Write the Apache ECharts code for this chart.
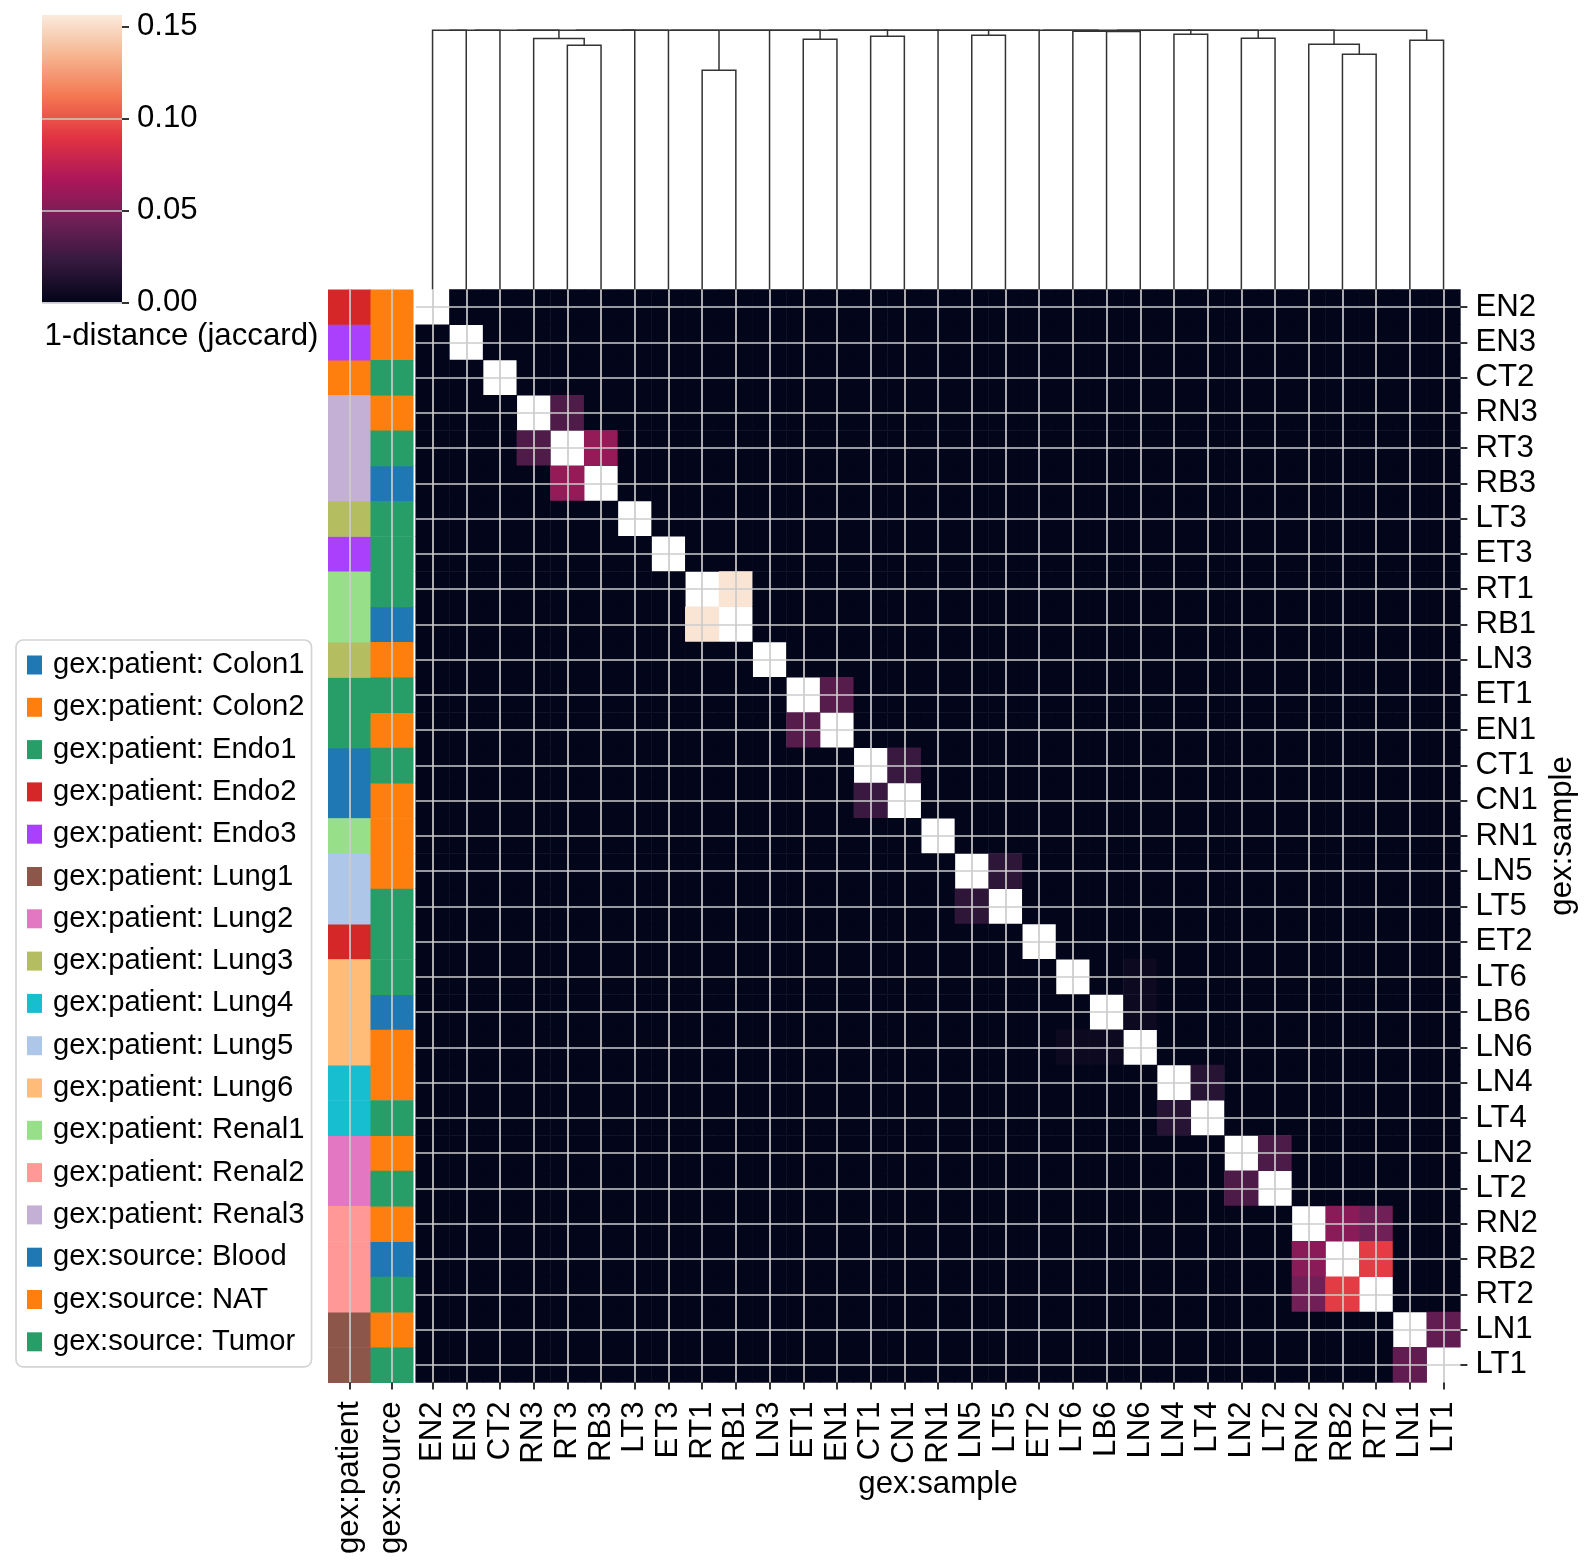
<!DOCTYPE html>
<html>
<head>
<meta charset="utf-8">
<title>gex:sample clustermap</title>
<script src="https://cdn.jsdelivr.net/npm/echarts@6/dist/echarts.min.js"></script>
<style>
  html, body { margin: 0; padding: 0; background: #fff; }
  #chart { width: 1591px; height: 1566px; }
</style>
</head>
<body>
<div id="chart"></div>
<script>
// leaf order coming out of the clustering, used for rows and columns
var samples = ['EN2', 'EN3', 'CT2', 'RN3', 'RT3', 'RB3', 'LT3', 'ET3', 'RT1', 'RB1', 'LN3',
  'ET1', 'EN1', 'CT1', 'CN1', 'RN1', 'LN5', 'LT5', 'ET2', 'LT6', 'LB6', 'LN6', 'LN4', 'LT4',
  'LN2', 'LT2', 'RN2', 'RB2', 'RT2', 'LN1', 'LT1'];
var patient = ['Endo2', 'Endo3', 'Colon2', 'Renal3', 'Renal3', 'Renal3', 'Lung3', 'Endo3',
  'Renal1', 'Renal1', 'Lung3', 'Endo1', 'Endo1', 'Colon1', 'Colon1', 'Renal1', 'Lung5', 'Lung5',
  'Endo2', 'Lung6', 'Lung6', 'Lung6', 'Lung4', 'Lung4', 'Lung2', 'Lung2', 'Renal2', 'Renal2',
  'Renal2', 'Lung1', 'Lung1'];
var source = ['NAT', 'NAT', 'Tumor', 'NAT', 'Tumor', 'Blood', 'Tumor', 'Tumor', 'Tumor', 'Blood',
  'NAT', 'Tumor', 'NAT', 'Tumor', 'NAT', 'NAT', 'NAT', 'Tumor', 'Tumor', 'Tumor', 'Blood', 'NAT',
  'NAT', 'Tumor', 'NAT', 'Tumor', 'NAT', 'Blood', 'Tumor', 'NAT', 'Tumor'];

var patientCats = ['Colon1', 'Colon2', 'Endo1', 'Endo2', 'Endo3', 'Lung1', 'Lung2', 'Lung3',
  'Lung4', 'Lung5', 'Lung6', 'Renal1', 'Renal2', 'Renal3'];
var patientColors = ['#1f77b4', '#ff7f0e', '#279e68', '#d62728', '#aa40fc', '#8c564b', '#e377c2',
  '#b5bd61', '#17becf', '#aec7e8', '#ffbb78', '#98df8a', '#ff9896', '#c5b0d5'];
var sourceCats = ['Blood', 'NAT', 'Tumor'];
var sourceColors = ['#1f77b4', '#ff7f0e', '#279e68'];

// 1 - jaccard distance for the pairs that are not 0 (diagonal is left empty)
var simPairs = [
  ['RN3', 'RT3', 0.032],
  ['RT3', 'RB3', 0.058],
  ['RT1', 'RB1', 0.154],
  ['ET1', 'EN1', 0.035],
  ['CT1', 'CN1', 0.024],
  ['LN5', 'LT5', 0.019],
  ['LT6', 'LN6', 0.004],
  ['LB6', 'LN6', 0.0045],
  ['LN4', 'LT4', 0.016],
  ['LN2', 'LT2', 0.031],
  ['RN2', 'RB2', 0.054],
  ['RN2', 'RT2', 0.045],
  ['RB2', 'RT2', 0.0925],
  ['LN1', 'LT1', 0.039]
];
var vmax = 0.1564;
var cbTicks = [0, 0.05, 0.10, 0.15];

// column dendrogram: [left, right, height]; a string is a sample, a number an earlier merge
var dendroMerges = [
  ['RT3', 'RB3', 0.942],
  ['RN3', 0, 0.968],
  ['RT1', 'RB1', 0.846],
  ['ET1', 'EN1', 0.965],
  ['CT1', 'CN1', 0.977],
  ['LN5', 'LT5', 0.981],
  ['LB6', 'LN6', 0.9955],
  ['LT6', 6, 0.9962],
  ['LN4', 'LT4', 0.985],
  ['LN2', 'LT2', 0.969],
  ['RB2', 'RT2', 0.9075],
  ['RN2', 10, 0.946],
  ['LN1', 'LT1', 0.9615]
];
var rootHeight = 1.0;

// seaborn "rocket"
var rocket = ['#03051a', '#35193e', '#701f57', '#ad1759', '#e13342', '#f37651', '#f6b48f', '#faebdd'];
var FS = 31.2;      // axis text
var FS_LEG = 29.2;  // legend text
var FONT = 'Liberation Sans, Arial, Helvetica, sans-serif';

var n = samples.length;
var simLookup = {};
simPairs.forEach(function (p) {
  var a = samples.indexOf(p[0]), b = samples.indexOf(p[1]);
  simLookup[a + '_' + b] = p[2];
  simLookup[b + '_' + a] = p[2];
});
var heatData = [];
for (var i = 0; i < n; i++) {
  for (var j = 0; j < n; j++) {
    heatData.push([j, i, i === j ? '-' : (simLookup[i + '_' + j] || 0)]);
  }
}

// dendrogram links in leaf coordinates
var links = [];
var topOf = samples.map(function (s, k) { return {x: k, h: 0, leaves: [k]}; });
var leafNodes = topOf.slice();
var clusters = [];
function nodeOf(ref) {
  return typeof ref === 'string' ? leafNodes[samples.indexOf(ref)] : clusters[ref];
}
dendroMerges.forEach(function (m) {
  var a = nodeOf(m[0]), b = nodeOf(m[1]);
  var c = {x: (a.x + b.x) / 2, h: m[2], leaves: a.leaves.concat(b.leaves)};
  links.push([a.x, b.x, a.h, b.h, c.h]);
  clusters.push(c);
  c.leaves.forEach(function (l) { topOf[l] = c; });
});
var tops = [];
topOf.forEach(function (nd) { if (tops.indexOf(nd) < 0) tops.push(nd); });
var acc = tops[0];
for (var t = 1; t < tops.length; t++) {
  links.push([acc.x, tops[t].x, acc.h, tops[t].h, rootHeight]);
  acc = {x: (acc.x + tops[t].x) / 2, h: rootHeight};
}

var tickStyle = {show: true, alignWithLabel: true, interval: 0, length: 7, lineStyle: {color: '#000', width: 1.6}};
var gridLine = {show: true, alignWithLabel: true, interval: 0, lineStyle: {color: '#cccccc', width: 1.7}};

function cellRect(params, api) {
  var c = api.coord([api.value(0), api.value(1)]);
  var s = api.size([1, 1]);
  return {
    type: 'rect',
    shape: {x: c[0] - s[0] / 2, y: c[1] - s[1] / 2, width: s[0] + 0.5, height: s[1] + 0.5},
    style: {fill: api.visual('color')}
  };
}

var series = [
  {
    type: 'heatmap', xAxisIndex: 0, yAxisIndex: 0, data: heatData,
    progressive: 0, emphasis: {disabled: true}
  },
  {
    type: 'custom', xAxisIndex: 2, yAxisIndex: 2, data: links, clip: false,
    renderItem: function (params, api) {
      var pts = [
        api.coord([api.value(0), api.value(2)]),
        api.coord([api.value(0), api.value(4)]),
        api.coord([api.value(1), api.value(4)]),
        api.coord([api.value(1), api.value(3)])
      ];
      return {type: 'polyline', shape: {points: pts}, style: {stroke: '#333333', lineWidth: 1.5, fill: null}};
    }
  },
  {
    type: 'custom', xAxisIndex: 3, yAxisIndex: 3, data: [[0, 0, vmax]], clip: false,
    renderItem: function (params, api) {
      var top = api.coord([api.value(0), api.value(2)]);
      var bot = api.coord([api.value(0), api.value(1)]);
      var w = api.size([1, 0])[0];
      var stops = rocket.map(function (c, k) { return {offset: k / (rocket.length - 1), color: c}; });
      return {
        type: 'rect',
        shape: {x: top[0] - w / 2, y: top[1], width: w, height: bot[1] - top[1]},
        style: {fill: new echarts.graphic.LinearGradient(0, 1, 0, 0, stops)}
      };
    }
  }
];

var legendNames = [];
patientCats.forEach(function (cat, k) {
  var name = 'gex:patient: ' + cat;
  legendNames.push(name);
  var d = [];
  patient.forEach(function (p, r) { if (p === cat) d.push([0, r]); });
  series.push({type: 'custom', name: name, xAxisIndex: 1, yAxisIndex: 1, data: d,
    itemStyle: {color: patientColors[k]}, encode: {x: 0, y: 1}, renderItem: cellRect});
});
sourceCats.forEach(function (cat, k) {
  var name = 'gex:source: ' + cat;
  legendNames.push(name);
  var d = [];
  source.forEach(function (p, r) { if (p === cat) d.push([1, r]); });
  series.push({type: 'custom', name: name, xAxisIndex: 1, yAxisIndex: 1, data: d,
    itemStyle: {color: sourceColors[k]}, encode: {x: 0, y: 1}, renderItem: cellRect});
});

var option = {
  backgroundColor: '#ffffff',
  animation: false,
  textStyle: {fontFamily: FONT},
  title: {
    text: '1-distance (jaccard)', left: 44.5, top: 321, padding: 0,
    textStyle: {fontSize: FS, fontWeight: 'normal', color: '#000', fontFamily: FONT}
  },
  legend: {
    orient: 'vertical', left: 16, top: 640, padding: [10, 7, 10, 11],
    itemWidth: 15, itemHeight: 19, itemGap: 12.3, icon: 'rect', selectedMode: false,
    borderColor: '#d4d4d4', borderWidth: 1.7, borderRadius: 7, backgroundColor: '#ffffff',
    textStyle: {fontSize: FS_LEG, color: '#000', lineHeight: 30, padding: [0, 0, 0, 6], fontFamily: FONT},
    data: legendNames
  },
  visualMap: {
    type: 'continuous', show: false, seriesIndex: 0, dimension: 2,
    min: 0, max: vmax, inRange: {color: rocket}
  },
  grid: [
    {left: 415.7, top: 289.4, width: 1044.7, height: 1093},
    {left: 328, top: 289.4, width: 85, height: 1093},
    {left: 415.7, top: 30.3, width: 1044.7, height: 259.1},
    {left: 42, top: 15, width: 80, height: 287.3}
  ],
  xAxis: [
    {
      type: 'category', gridIndex: 0, data: samples, position: 'bottom', z: 10,
      axisLine: {show: false}, axisTick: tickStyle,
      axisLabel: {interval: 0, rotate: 90, margin: 19, fontSize: FS, color: '#000'},
      splitLine: gridLine,
      name: 'gex:sample', nameLocation: 'middle', nameGap: 86, nameMoveOverlap: false,
      nameTextStyle: {fontSize: FS, color: '#000'}
    },
    {
      type: 'category', gridIndex: 1, data: ['gex:patient', 'gex:source'], position: 'bottom', z: 10,
      axisLine: {show: false}, axisTick: tickStyle,
      axisLabel: {interval: 0, rotate: 90, margin: 19, fontSize: FS, color: '#000'},
      splitLine: gridLine
    },
    {type: 'value', gridIndex: 2, min: -0.5, max: n - 0.5, show: false},
    {type: 'category', gridIndex: 3, data: ['cbar'], show: false}
  ],
  yAxis: [
    {
      type: 'category', gridIndex: 0, data: samples, inverse: true, position: 'right', z: 10,
      axisLine: {show: false}, axisTick: tickStyle,
      axisLabel: {interval: 0, margin: 15, fontSize: FS, color: '#000', padding: [5, 0, 0, 0]},
      splitLine: gridLine,
      name: 'gex:sample', nameLocation: 'middle', nameRotate: 90, nameGap: 86, nameMoveOverlap: false,
      nameTextStyle: {fontSize: FS, color: '#000'}
    },
    {type: 'category', gridIndex: 1, data: samples, inverse: true, show: false},
    {type: 'value', gridIndex: 2, min: 0, max: rootHeight, show: false},
    {
      type: 'value', gridIndex: 3, min: 0, max: vmax, interval: 0.05, position: 'right', z: 10,
      axisLine: {show: false},
      axisTick: {show: true, customValues: cbTicks, length: 7, lineStyle: {color: '#000', width: 1.6}},
      axisLabel: {
        customValues: cbTicks, margin: 15, fontSize: FS, color: '#000', padding: [5, 0, 0, 0],
        formatter: function (v) { return v.toFixed(2); }
      },
      splitLine: {show: true, showMinLine: true, showMaxLine: false, lineStyle: {color: '#cccccc', width: 1.7}}
    }
  ],
  series: series
};

var myChart = echarts.init(document.getElementById('chart'));
myChart.setOption(option);
</script>
</body>
</html>
